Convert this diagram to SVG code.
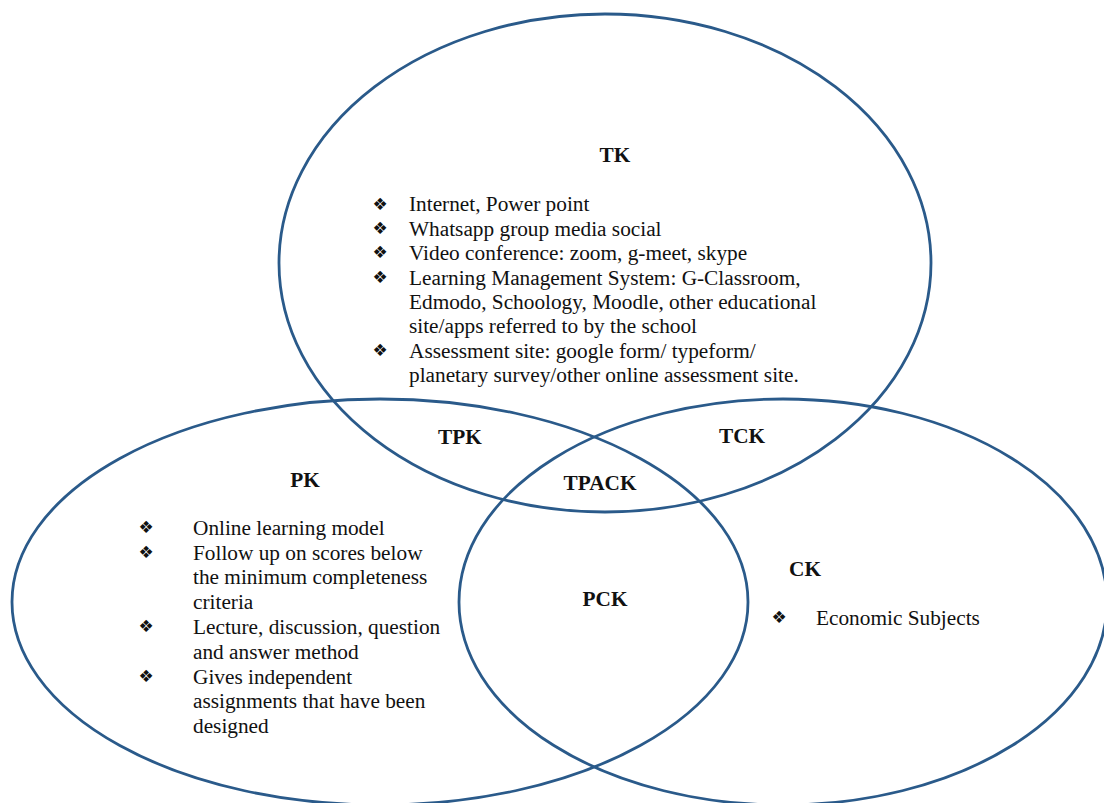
<svg xmlns="http://www.w3.org/2000/svg" width="1104" height="803" viewBox="0 0 1104 803">
<style>
.ring{fill:none;stroke:#2a5a8a;stroke-width:2.8}
.t{font-family:"Liberation Serif","Times New Roman",serif;font-size:21.3px;fill:#111}
.h{font-family:"Liberation Serif","Times New Roman",serif;font-size:21.3px;font-weight:bold;fill:#111;text-anchor:middle}
.b{font-family:"DejaVu Sans",sans-serif;font-size:17px;fill:#111;text-anchor:middle}
</style>
<rect width="1104" height="803" fill="#fff"/>
<g id="TK">
<ellipse class="ring" cx="605" cy="263" rx="326" ry="249"/>
<text class="h" x="615" y="162">TK</text>
<text class="b" x="380" y="210">❖&#xFE0E;</text>
<text class="t" x="409" y="211">Internet, Power point</text>
<text class="b" x="380" y="234">❖&#xFE0E;</text>
<text class="t" x="409" y="236">Whatsapp group media social</text>
<text class="b" x="380" y="258">❖&#xFE0E;</text>
<text class="t" x="409" y="260">Video conference: zoom, g-meet, skype</text>
<text class="b" x="380" y="283">❖&#xFE0E;</text>
<text class="t" x="409" y="285">Learning Management System: G-Classroom,</text>
<text class="t" x="409" y="309">Edmodo, Schoology, Moodle, other educational</text>
<text class="t" x="409" y="333">site/apps referred to by the school</text>
<text class="b" x="380" y="356">❖&#xFE0E;</text>
<text class="t" x="409" y="358">Assessment site: google form/ typeform/</text>
<text class="t" x="409" y="382">planetary survey/other online assessment site.</text>
</g>
<g id="PK">
<ellipse class="ring" cx="380" cy="602" rx="368" ry="203"/>
<text class="h" x="305" y="487">PK</text>
<text class="b" x="146" y="533">❖&#xFE0E;</text>
<text class="t" x="193" y="535">Online learning model</text>
<text class="b" x="146" y="558">❖&#xFE0E;</text>
<text class="t" x="193" y="560">Follow up on scores below</text>
<text class="t" x="193" y="584">the minimum completeness</text>
<text class="t" x="193" y="609">criteria</text>
<text class="b" x="146" y="632">❖&#xFE0E;</text>
<text class="t" x="193" y="634">Lecture, discussion, question</text>
<text class="t" x="193" y="659">and answer method</text>
<text class="b" x="146" y="682">❖&#xFE0E;</text>
<text class="t" x="193" y="684">Gives independent</text>
<text class="t" x="193" y="708">assignments that have been</text>
<text class="t" x="193" y="733">designed</text>
</g>
<g id="CK">
<ellipse class="ring" cx="783" cy="602" rx="324" ry="203"/>
<text class="h" x="805" y="576">CK</text>
<text class="b" x="779" y="623">❖&#xFE0E;</text>
<text class="t" x="816" y="625">Economic Subjects</text>
</g>
<g id="TPK"><text class="h" x="460" y="444">TPK</text></g>
<g id="TCK"><text class="h" x="742" y="443">TCK</text></g>
<g id="TPACK"><text class="h" x="600" y="490">TPACK</text></g>
<g id="PCK"><text class="h" x="605" y="606">PCK</text></g>
</svg>
